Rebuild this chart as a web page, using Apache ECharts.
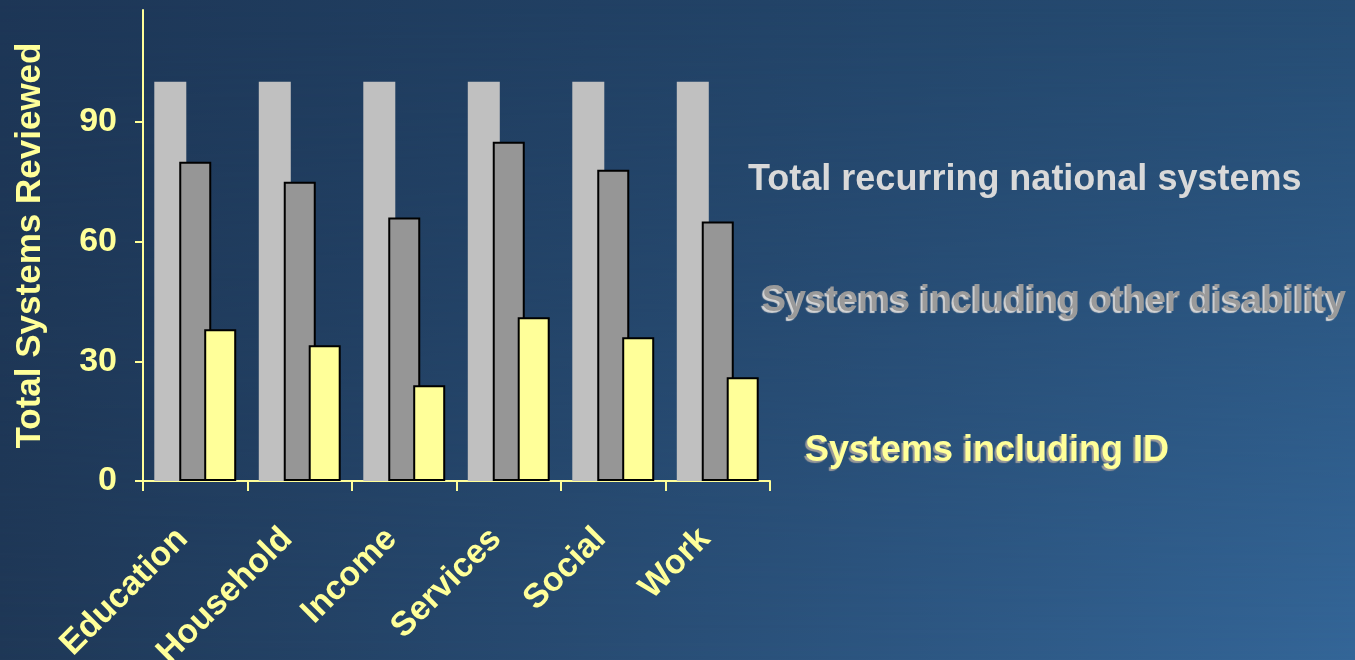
<!DOCTYPE html>
<html>
<head>
<meta charset="utf-8">
<script src="https://cdn.jsdelivr.net/npm/echarts@6/dist/echarts.min.js"></script>
<style>
  html, body { margin: 0; padding: 0; width: 1355px; height: 660px; overflow: hidden; }
  #bg1 { position: absolute; left: 0; top: 0; width: 1355px; height: 660px;
         background: linear-gradient(to right, #1f3857, #346698); }
  #bg2 { position: absolute; left: 0; top: 0; width: 1355px; height: 660px;
         background: linear-gradient(to right, #1d3656, #264d74);
         -webkit-mask-image: linear-gradient(to bottom, rgba(0,0,0,1), rgba(0,0,0,0));
         mask-image: linear-gradient(to bottom, rgba(0,0,0,1), rgba(0,0,0,0)); }
  #chart { position: absolute; left: 0; top: 0; width: 1355px; height: 660px; }
</style>
</head>
<body>
<div id="bg1"></div>
<div id="bg2"></div>
<div id="chart"></div>
<script>
const categories = ['Education', 'Household', 'Income', 'Services', 'Social', 'Work'];
const totalSystems = [100, 100, 100, 100, 100, 100];
const otherDisability = [80, 75, 66, 85, 78, 65];
const idSystems = [38, 34, 24, 41, 36, 26];
const yTicks = [0, 30, 60, 90];
const seriesNames = ['Total recurring national systems', 'Systems including other disability', 'Systems including ID'];
const yAxisTitle = 'Total Systems Reviewed';

const FONT = '"Liberation Sans", Arial, sans-serif';
const YELLOW = '#ffff99';

const chart = echarts.init(document.getElementById('chart'), null, { renderer: 'canvas' });
chart.setOption({
  backgroundColor: 'transparent',
  animation: false,
  grid: { left: 143, right: 585, top: 10, bottom: 179, containLabel: false, outerBoundsMode: 'none' },
  xAxis: {
    type: 'category',
    data: categories,
    axisLine: { lineStyle: { color: YELLOW, width: 2 } },
    axisTick: { show: true, length: 10, lineStyle: { color: YELLOW, width: 2 } },
    axisLabel: {
      rotate: 45, margin: 40, color: YELLOW, fontSize: 34, fontWeight: 'bold', fontFamily: FONT,
      interval: 0, padding: [0, 18, 0, 0]
    },
    splitLine: { show: false }
  },
  yAxis: {
    type: 'value',
    min: 0, max: 118,
    name: yAxisTitle,
    nameLocation: 'middle',
    nameGap: 95,
    nameTextStyle: { color: YELLOW, fontSize: 35, fontWeight: 'bold', fontFamily: FONT },
    axisLine: { show: true, lineStyle: { color: YELLOW, width: 2 } },
    axisTick: { show: true, length: 8, lineStyle: { color: YELLOW, width: 2 }, customValues: yTicks },
    axisLabel: { margin: 26, color: YELLOW, fontSize: 34, fontWeight: 'bold', fontFamily: FONT, customValues: yTicks },
    splitLine: { show: false }
  },
  series: [
    {
      name: seriesNames[0], type: 'bar', data: totalSystems,
      barWidth: 32, barGap: '-22%',
      itemStyle: { color: '#c0c0c0', borderWidth: 0 }
    },
    {
      name: seriesNames[1], type: 'bar', data: otherDisability,
      barWidth: 32, barGap: '-22%',
      itemStyle: { color: '#969696', borderColor: '#000', borderWidth: 2 }
    },
    {
      name: seriesNames[2], type: 'bar', data: idSystems,
      barWidth: 32, barGap: '-22%',
      itemStyle: { color: YELLOW, borderColor: '#000', borderWidth: 2 }
    }
  ],
  graphic: [
    {
      type: 'text', left: 748, top: 162,
      style: { text: seriesNames[0], fill: '#d9d9d9', font: 'bold 36px ' + FONT }
    },
    {
      type: 'text', left: 762, top: 283,
      style: {
        text: seriesNames[1], fill: '#9a9a9a', font: 'bold 36px ' + FONT,
        textShadowColor: '#d4d4d4', textShadowOffsetX: -2, textShadowOffsetY: 2, textShadowBlur: 1
      }
    },
    {
      type: 'text', left: 805, top: 433,
      style: {
        text: seriesNames[2], fill: YELLOW, font: 'bold 36px ' + FONT,
        textShadowColor: '#9a9a9a', textShadowOffsetX: -2, textShadowOffsetY: 2, textShadowBlur: 1
      }
    }
  ]
});
</script>
</body>
</html>
